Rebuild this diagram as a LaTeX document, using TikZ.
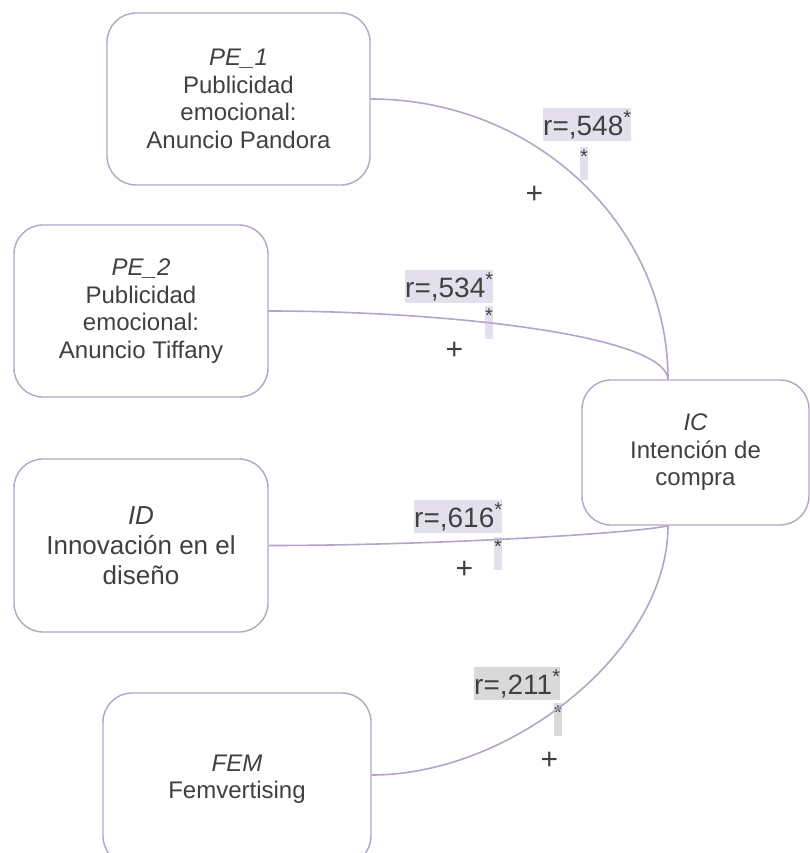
\documentclass[tikz,border=0pt]{standalone}
\usepackage{fontspec}
\setmainfont{Liberation Sans}
\definecolor{txt}{HTML}{404040}
\definecolor{lin}{HTML}{B4A5C8}
\definecolor{lav}{HTML}{E4DFEC}
\definecolor{gry}{HTML}{D9D9D9}
\begin{document}
\begin{tikzpicture}[x=1pt,y=-1pt,
  box/.style={draw=lin, line width=1.4pt, rounded corners=29pt, fill=white, text=txt,
    align=center, inner sep=0pt, font=\fontsize{24}{27.5}\selectfont},
  conn/.style={draw=lin, line width=1.6pt},
  rlab/.style={inner sep=0pt, text height=27pt, text depth=6pt, text=txt,
    font=\fontsize{28}{33}\selectfont, anchor=north west},
  plus/.style={inner sep=0pt, text=txt, font=\fontsize{30}{30}\selectfont}]
\useasboundingbox (0,0) rectangle (810,853);
\clip (0,0) rectangle (810,853);
% boxes
\node[box, minimum width=263pt, minimum height=172pt] (PE1) at (238.5,99)
  {{\itshape PE\_1}\\Publicidad\\emocional:\\Anuncio Pandora};
\node[box, minimum width=254pt, minimum height=172pt] (PE2) at (141,311)
  {{\itshape PE\_2}\\Publicidad\\emocional:\\Anuncio Tiffany};
\node[box, minimum width=254pt, minimum height=173pt, font=\fontsize{26}{30}\selectfont] (ID) at (141,545.5)
  {{\itshape ID}\\Innovación en el\\diseño};
\node[box, minimum width=268pt, minimum height=172pt] (FEM) at (237,779)
  {{\itshape FEM}\\Femvertising};
\node[box, minimum width=227pt, minimum height=145pt] (IC) at (695.5,452.5)
  {{\itshape IC}\\Intención de\\compra};
\coordinate (ICt) at ([xshift=-27.5pt]IC.north);
\coordinate (ICb) at ([xshift=-27.5pt]IC.south);
\coordinate (FEMe) at ([yshift=4pt]FEM.east);
% labels
\node[rlab, fill=lav] (l1) at (543,108) {r=,548\raisebox{11pt}{\fontsize{20}{20}\selectfont *}};
\node[rlab, fill=lav] (l1s) at (580,147) {\raisebox{11pt}{\fontsize{20}{20}\selectfont *}};
\node[plus] (p1) at (534.5,195) {+};
\node[rlab, fill=lav] (l2) at (405,270) {r=,534\raisebox{11pt}{\fontsize{20}{20}\selectfont *}};
\node[rlab, fill=lav] (l2s) at (485,306) {\raisebox{11pt}{\fontsize{20}{20}\selectfont *}};
\node[plus] (p2) at (454.5,350.5) {+};
\node[rlab, fill=lav] (l3) at (414,500) {r=,616\raisebox{11pt}{\fontsize{20}{20}\selectfont *}};
\node[rlab, fill=lav] (l3s) at (494,537) {\raisebox{11pt}{\fontsize{20}{20}\selectfont *}};
\node[plus] (p3) at (464.5,570) {+};
\node[rlab, fill=gry] (l4) at (474,667) {r=,211\raisebox{11pt}{\fontsize{20}{20}\selectfont *}};
\node[rlab, fill=gry] (l4s) at (554,703) {\raisebox{11pt}{\fontsize{20}{20}\selectfont *}};
\node[plus] (p4) at (549.5,760.5) {+};
% connectors
\draw[conn] (PE1.east) .. controls +(164,0) and +(0,-154) .. (ICt);
\draw[conn] (PE2.east) .. controls +(172,0) and +(-3,-45) .. (ICt);
\draw[conn] (ID.east) .. controls +(172,0) and +(-28,7) .. (ICb);
\draw[conn] (FEMe) .. controls +(140,0) and +(0,125) .. (ICb);
\end{tikzpicture}
\end{document}
